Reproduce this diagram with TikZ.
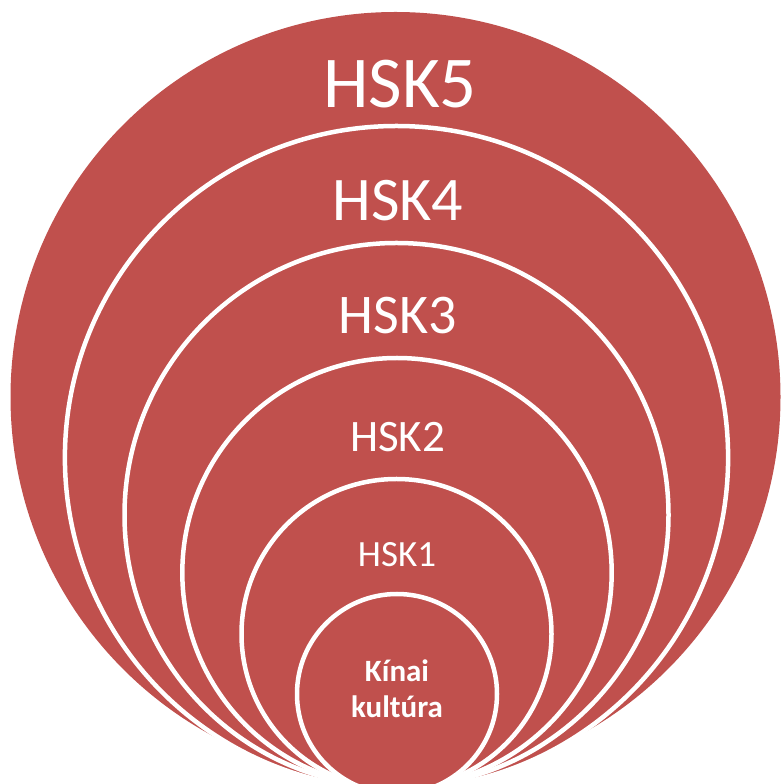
\documentclass[tikz,border=0pt]{standalone}
\usepackage{fontspec}
\setmainfont{Carlito}
\definecolor{ringred}{HTML}{C0504D}
\begin{document}
\begin{tikzpicture}[x=1pt,y=1pt,
  ring/.style={circle, fill=ringred, draw=white, line width=4.5pt, inner sep=0pt, outer sep=0pt, minimum size=#1},
  lbl/.style={text=white, inner sep=0pt, anchor=base}]
\useasboundingbox (0,0) rectangle (780,784);
\node[circle, fill=ringred, inner sep=0pt, minimum size=770] (c5) at (395.5,387) {};
\node[ring=663.2] (c4) at (396.5,326.4) {};
\node[ring=544] (c3) at (396.5,269) {};
\node[ring=429.4] (c2) at (397,211.3) {};
\node[ring=310] (c1) at (396.5,150) {};
\node[ring=200] (c0) at (397,90) {};
\node[lbl, font=\fontsize{73}{88}\selectfont] (t5) at (400,676) {HSK5};
\node[lbl, font=\fontsize{62}{75}\selectfont] (t4) at (398,563) {HSK4};
\node[lbl, font=\fontsize{56}{68}\selectfont] (t3) at (398,450) {HSK3};
\node[lbl, font=\fontsize{45}{54}\selectfont] (t2) at (397.5,332) {HSK2};
\node[lbl, font=\fontsize{37}{45}\selectfont] (t1) at (397,217) {HSK1};
\node[lbl, align=center, font=\bfseries\fontsize{31}{36}\selectfont] (t0) at (397,66) {Kínai\\kultúra};
\end{tikzpicture}
\end{document}
